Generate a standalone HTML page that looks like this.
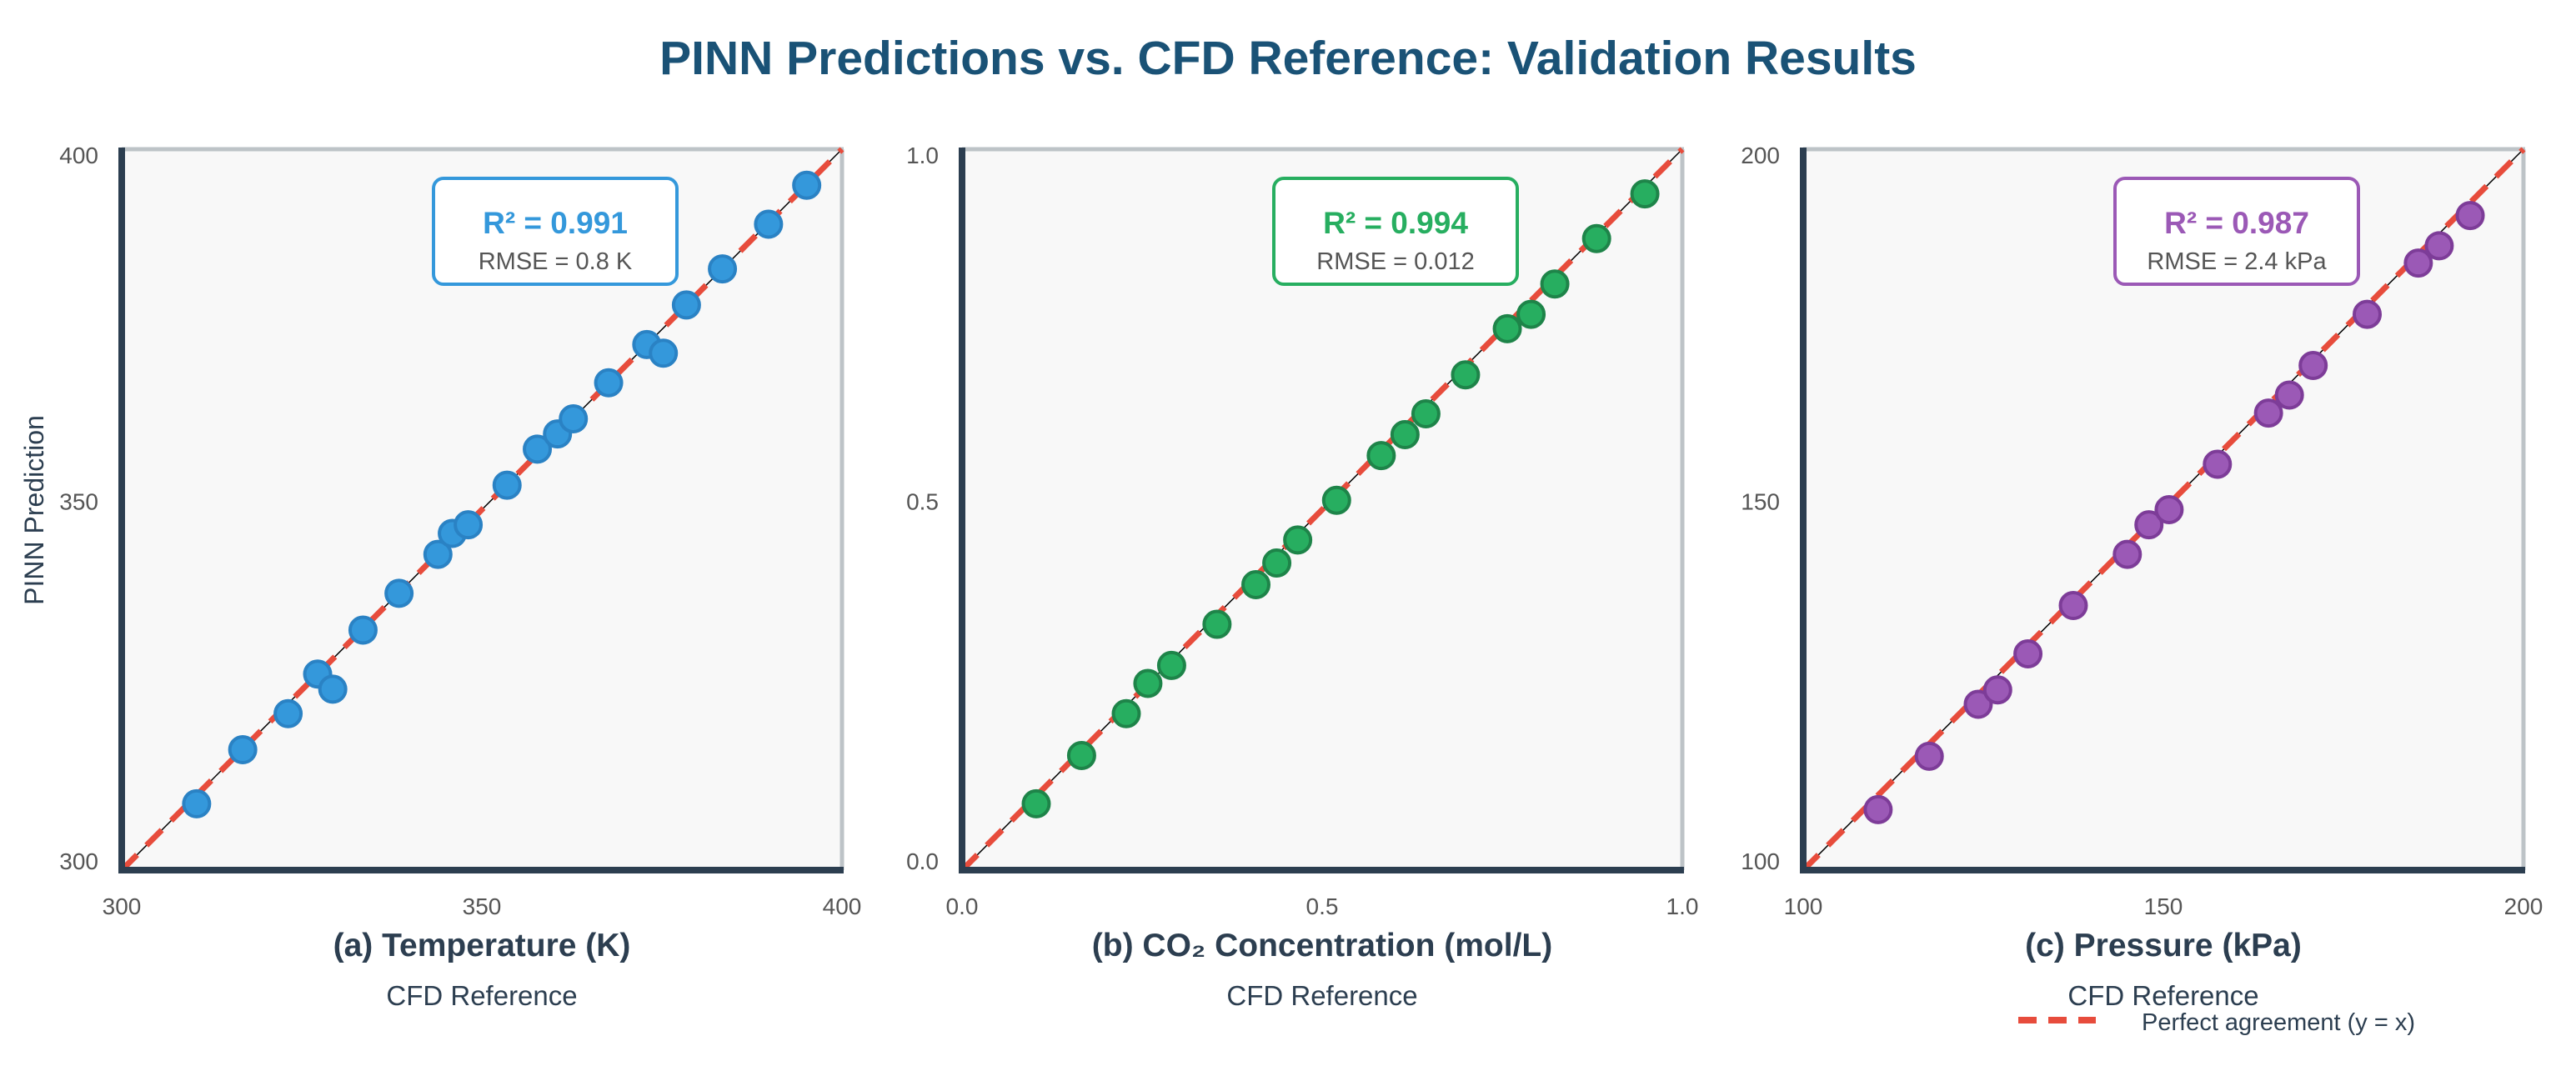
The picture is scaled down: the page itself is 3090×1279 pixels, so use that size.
<!DOCTYPE html>
<html><head><meta charset="utf-8"><style>
html,body{margin:0;padding:0;background:#fff;}
svg{display:block;font-family:"Liberation Sans",sans-serif;}
</style></head><body>
<svg id="chart" width="3090" height="1279" viewBox="0 0 3090 1279" xmlns="http://www.w3.org/2000/svg">
<text x="1545" y="89" text-anchor="middle" font-size="57" font-weight="bold" fill="#1a5276">PINN Predictions vs. CFD Reference: Validation Results</text>
<text transform="translate(52,612) rotate(-90)" text-anchor="middle" font-size="32" fill="#2c3e50">PINN Prediction</text>
<g id="panels"></g>
</svg>
<script>
const tempRef = [310.4,316.8,323.1,327.2,329.3,333.5,338.5,343.9,345.9,348.1,353.5,357.7,360.5,362.7,367.6,372.9,375.2,378.4,383.4,389.8,395.1];
const tempPred = [309.2,316.7,321.7,327.2,325.1,333.3,338.4,343.8,346.7,347.9,353.4,358.4,360.5,362.6,367.6,372.9,371.7,378.4,383.4,389.6,395.0];
const co2Ref = [0.103,0.166,0.228,0.258,0.291,0.354,0.408,0.437,0.466,0.520,0.582,0.615,0.644,0.699,0.757,0.790,0.823,0.881,0.948];
const co2Pred = [0.092,0.159,0.217,0.259,0.284,0.341,0.396,0.426,0.458,0.513,0.575,0.604,0.633,0.687,0.751,0.771,0.813,0.876,0.938];
const presRef = [110.4,117.5,124.3,127.0,131.2,137.5,145.0,148.0,150.8,157.5,164.6,167.5,170.8,178.3,185.4,188.3,192.6];
const presPred = [108.4,115.8,123.0,125.0,130.0,136.7,143.8,147.9,150.0,156.3,163.4,165.9,170.0,177.1,184.2,186.6,190.8];
const tempTicks = ["300","350","400"];
const co2Ticks = ["0.0","0.5","1.0"];
const presTicks = ["100","150","200"];
const panelTitles = ["(a) Temperature (K)","(b) CO\u2082 Concentration (mol/L)","(c) Pressure (kPa)"];
const r2Labels = ["R\u00b2 = 0.991","R\u00b2 = 0.994","R\u00b2 = 0.987"];
const rmseLabels = ["RMSE = 0.8 K","RMSE = 0.012","RMSE = 2.4 kPa"];

const NS="http://www.w3.org/2000/svg";
const root=document.getElementById('panels');
function mk(tag,attrs,parent){const e=document.createElementNS(NS,tag);for(const k in attrs)e.setAttribute(k,attrs[k]);(parent||root).appendChild(e);return e;}

const panels=[
 {left:146,min:300,max:400,xs:tempRef,ys:tempPred,ticks:tempTicks,fill:"#3498db",edge:"#2a82c4",name:"temperature"},
 {left:1154,min:0,max:1,xs:co2Ref,ys:co2Pred,ticks:co2Ticks,fill:"#27ae60",edge:"#1e8449",name:"co2"},
 {left:2163,min:100,max:200,xs:presRef,ys:presPred,ticks:presTicks,fill:"#9b59b6",edge:"#7d3c98",name:"pressure"}
];
const TOP=179,BOT=1044,W=864;
panels.forEach((p,i)=>{
 const g=mk('g',{});
 
 
 const xS=v=>p.left+(v-p.min)/(p.max-p.min)*W;
 const yS=v=>BOT-(v-p.min)/(p.max-p.min)*(BOT-TOP);
 const bg=mk('rect',{x:p.left,y:TOP,width:W,height:BOT-TOP,fill:"#f8f8f8"},g);
 
 
 const st=mk('line',{x1:p.left,y1:TOP,x2:p.left+W+2,y2:TOP,stroke:"#bdc3c7","stroke-width":5},g);
 
 
 const sr=mk('line',{x1:p.left+W,y1:TOP,x2:p.left+W,y2:BOT,stroke:"#bdc3c7","stroke-width":5},g);
 
 
 const bl=mk('line',{x1:xS(p.min),y1:yS(p.min),x2:xS(p.max),y2:yS(p.max),stroke:"#000","stroke-width":1.5},g);
 
 
 const dl=mk('line',{x1:xS(p.min),y1:yS(p.min),x2:xS(p.max),y2:yS(p.max),stroke:"#e74c3c","stroke-width":7,"stroke-dasharray":"26 16"},g);
 
 
 p.xs.forEach((xv,j)=>{
  const c=mk('circle',{cx:xS(xv),cy:yS(p.ys[j]),r:15.5,fill:p.fill,stroke:p.edge,"stroke-width":4},g);
  
  
 });
 const sl=mk('line',{x1:p.left,y1:TOP-2,x2:p.left,y2:BOT+4,stroke:"#2c3e50","stroke-width":8},g);
 
 
 const sb=mk('line',{x1:p.left-4,y1:BOT,x2:p.left+W+2,y2:BOT,stroke:"#2c3e50","stroke-width":8},g);
 
 
 const yOff=[-11,-10,7];
 p.ticks.forEach((t,k)=>{
  const v=p.min+k*(p.max-p.min)/2;
  const tx=mk('text',{x:xS(v),y:1097,"text-anchor":"middle","font-size":28,fill:"#555"},g);
  tx.textContent=t;
  
  
  const ty=mk('text',{x:p.left-28,y:yS(v)+yOff[k]+10,"text-anchor":"end","font-size":28,fill:"#555"},g);
  ty.textContent=t;
  
  
 });
 const pt=mk('text',{x:p.left+W/2,y:1147,"text-anchor":"middle","font-size":39,"font-weight":"bold",fill:"#2c3e50"},g);
 pt.textContent=panelTitles[i];
 
 
 const xl=mk('text',{x:p.left+W/2,y:1206,"text-anchor":"middle","font-size":33,fill:"#2c3e50"},g);
 xl.textContent="CFD Reference";
 
 
 const bx=p.left+374;
 const box=mk('rect',{x:bx,y:214,width:292,height:127,rx:12,fill:"#fff",stroke:p.fill,"stroke-width":4},g);
 
 
 const r2=mk('text',{x:bx+146,y:280,"text-anchor":"middle","font-size":37,"font-weight":"bold",fill:p.fill},g);
 r2.textContent=r2Labels[i];
 
 
 const rm=mk('text',{x:bx+146,y:323,"text-anchor":"middle","font-size":29,fill:"#555"},g);
 rm.textContent=rmseLabels[i];
 
 
});
const lg=mk('g',{});


const ll=mk('line',{x1:2421,y1:1224,x2:2514,y2:1224,stroke:"#e74c3c","stroke-width":8,"stroke-dasharray":"22 14"},lg);


const lt=mk('text',{x:2569,y:1236,"font-size":29,fill:"#2c3e50"},lg);
lt.textContent="Perfect agreement (y = x)";


</script>
</body></html>
